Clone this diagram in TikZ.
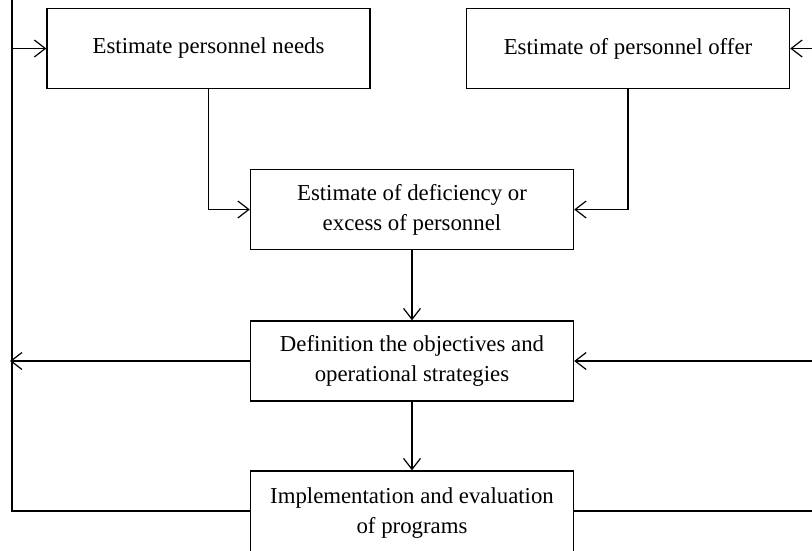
\documentclass[tikz,border=0pt]{standalone}
\usepackage{fontspec}
\setmainfont{Liberation Serif}
\usetikzlibrary{arrows.meta}
\tikzset{
  stage/.style={draw, line width=1.4pt, minimum width=323pt, minimum height=80pt,
    inner sep=0pt, align=center, font=\fontsize{22.8}{30}\selectfont},
  link/.style={draw, line width=1.2pt, -{Straight Barb[length=11pt,width=17pt,line width=1.2pt]}},
  plain/.style={draw, line width=1.2pt}
}
\begin{document}
\begin{tikzpicture}[x=1pt,y=-1pt]
  \useasboundingbox (0,0) rectangle (812,550);
  \clip (0,0) rectangle (812,550);

  % process stages
  \node[stage] (needs) at (208.5,48.5) {Estimate personnel needs};
  \node[stage] (offer) at (628,48.5) {Estimate of personnel offer};
  \node[stage] (gap)   at (412,209.5) {Estimate of deficiency or\\excess of personnel};
  \node[stage] (plan)  at (412,361) {Definition the objectives and\\operational strategies};
  \node[stage, minimum height=84pt] (run) at (412,513) {Implementation and evaluation\\of programs};

  % loose ends at the margins
  \coordinate (lx) at (12,0);
  \coordinate (leftout) at (10,361);
  \coordinate (rightin) at (812,361);
  \coordinate (rightrun) at (812,511);
  \coordinate (rightoffer) at (812,48.5);
  \coordinate (runleft) at (run.west |- 0,511);
  \coordinate (runright) at (run.east |- 0,511);

  % estimates feed the gap estimate
  \draw[link] (needs.south) |- (gap.west);
  \draw[link] (offer.south) |- (gap.east);

  % main flow
  \draw[link] (gap.south) -- (plan.north);
  \draw[link] (plan.south) -- (run.north);

  % side branches
  \draw[link] (plan.west) -- (leftout);
  \draw[link] (rightin) -- (plan.east);
  \draw[link] (rightoffer) -- (offer.east);
  \draw[plain] (runright) -- (rightrun);

  % feedback loop back to the needs estimate
  \draw[link] (runleft) -| (lx) |- (needs.west);
\end{tikzpicture}
\end{document}
